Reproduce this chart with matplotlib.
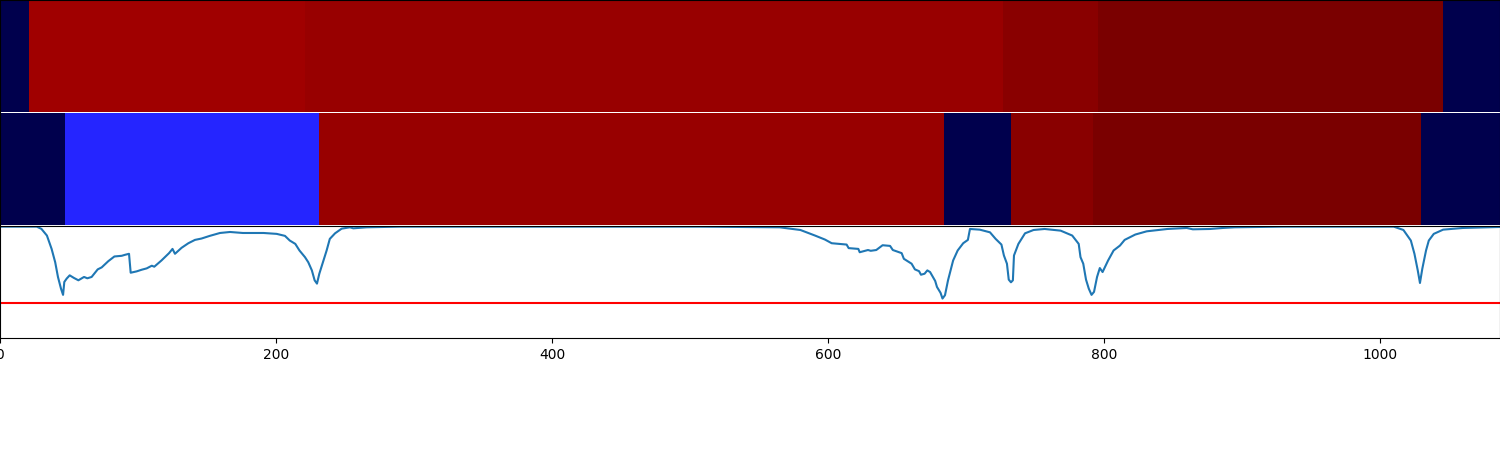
import numpy as np
import matplotlib
matplotlib.use('Agg')
import matplotlib.pyplot as plt
from matplotlib.colors import LinearSegmentedColormap

x_max = 1087

# segment edges and colour values for the two strips
top_edges = [0, 21, 221, 727, 796, 1046, x_max]
top_vals = [0.0, 0.929, 0.944, 0.969, 1.0, 0.0]
mid_edges = [0, 47, 231, 684, 733, 792, 1030, x_max]
mid_vals = [0.0, 0.287, 0.944, 0.0, 0.969, 1.0, 0.0]

# curve
curve_x = [0, 26.6, 30, 34, 37.4, 40, 42, 44.2, 45.7, 46.6, 48.3, 50.5, 53.6, 56.8, 60.9, 63.3, 66.4, 70.8,
           73.7, 78.5, 82.9, 88.2, 90.6, 93.5, 94.7, 99, 102.7, 106.3, 110, 111.8, 117, 122.5, 125, 126.8,
           131.6, 136.5, 141.3, 146, 152, 159.4, 166.7, 176, 191, 200.5, 206.5, 210, 214, 217, 221, 223.4,
           226, 228, 229.7, 231.4, 234, 236.7, 239, 242.8, 247.6, 253.6, 256, 265.7, 290,
           507, 565, 580, 590.6, 597.8, 602.7, 613.5, 615, 622, 623, 629, 631, 635, 639.6, 645, 647, 653.4,
           655, 660.6, 663, 666, 667.4, 670, 672, 674, 677.7, 679, 681.6, 683, 684.8, 687, 690.7, 694, 698,
           701.4, 702.9, 710, 717.4, 721.5, 725.7, 727.5, 729.7, 731, 732.6, 734, 734.8, 738, 742.8, 749,
           757, 768.6, 777, 781.7, 783, 785, 787, 789, 791, 792.8, 795, 797, 799, 803, 807, 811.6, 815,
           822.7, 831, 846, 860, 864.4, 877, 886, 894.7, 929.6, 1010, 1017, 1022.4, 1025, 1027.4, 1029,
           1030.7, 1033.4, 1035.4, 1039, 1045.8, 1060, 1087]
curve_y = [1.0, 1.0, 0.98, 0.92, 0.80, 0.68, 0.548, 0.443, 0.387, 0.503, 0.533, 0.5625, 0.539, 0.518, 0.548, 0.536, 0.548, 0.616,
           0.634, 0.69, 0.732, 0.738, 0.747, 0.756, 0.586, 0.598, 0.613, 0.625, 0.649, 0.64, 0.696, 0.762, 0.80, 0.756,
           0.81, 0.851, 0.881, 0.893, 0.917, 0.943, 0.952, 0.943, 0.943, 0.935, 0.917, 0.875, 0.845, 0.786, 0.726, 0.68,
           0.607, 0.518, 0.488, 0.577, 0.68, 0.786, 0.89, 0.94, 0.982, 0.994, 0.985, 0.994, 1.0,
           1.0, 0.994, 0.97, 0.92, 0.884, 0.851, 0.839, 0.807, 0.80, 0.77, 0.79, 0.783, 0.79, 0.833, 0.827, 0.79, 0.762,
           0.711, 0.667, 0.616, 0.60, 0.568, 0.577, 0.607, 0.592, 0.512, 0.458, 0.405, 0.354, 0.384, 0.518, 0.696, 0.786, 0.851,
           0.881, 0.979, 0.973, 0.949, 0.89, 0.839, 0.741, 0.667, 0.524, 0.50, 0.518, 0.741, 0.845, 0.94, 0.97,
           0.979, 0.964, 0.92, 0.845, 0.726, 0.667, 0.524, 0.443, 0.387, 0.414, 0.548, 0.628, 0.592, 0.696, 0.786, 0.83, 0.881,
           0.929, 0.958, 0.979, 0.988, 0.976, 0.979, 0.988, 0.994, 1.0, 1.0, 0.97, 0.875, 0.756, 0.607, 0.494,
           0.622, 0.786, 0.875, 0.935, 0.973, 0.988, 0.997]
threshold = 0.314

# seismic, a bit darker at the red end
cmap = LinearSegmentedColormap.from_list('strip', [(0, 0, 0.3), (0, 0, 1), (1, 1, 1), (1, 0, 0), (0.48, 0, 0)])


def strip(ax, edges, vals):
    ax.pcolormesh(edges, [0, 1], [vals], cmap=cmap, vmin=0, vmax=1)
    ax.set_xlim(0, x_max)
    ax.set_xticks([])
    ax.set_yticks([])


fig, axes = plt.subplots(3, 1, figsize=(15, 4.5))
plt.subplots_adjust(left=0, right=1, top=1, bottom=0.249, hspace=0.009)

strip(axes[0], top_edges, top_vals)
strip(axes[1], mid_edges, mid_vals)
axes[0].spines['bottom'].set_visible(False)
axes[1].spines['top'].set_visible(False)
axes[1].spines['bottom'].set_visible(False)

axes[2].plot(curve_x, curve_y)
axes[2].axhline(threshold, color='r')
axes[2].set_xlim(0, x_max)
axes[2].set_ylim(0, 1.006)
axes[2].set_yticks([])

plt.savefig('out.png', dpi=100)
